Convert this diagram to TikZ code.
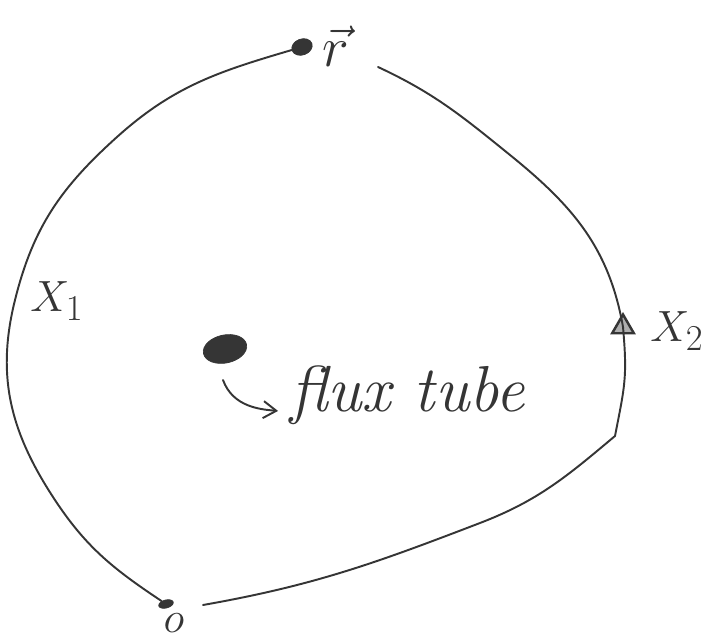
\documentclass[tikz,border=0pt]{standalone}
\usepackage{fontspec}
\usepackage{tikz}
\usetikzlibrary{positioning,shapes.geometric,arrows.meta}
\definecolor{PenGrey}{HTML}{353535}

\begin{document}
\begin{tikzpicture}[>={Straight Barb[length=2.6mm,width=3.4mm]},x=0.2mm,y=0.2mm]
  \tikzstyle{pen}=[draw=PenGrey,line width=1.1pt,line cap=round]
  \tikzstyle{blot}=[ellipse,fill=PenGrey,draw=PenGrey,inner sep=0pt]
  \tikzstyle{hand}=[text=PenGrey,inner sep=0pt,font=\fontsize{24.88}{28}\selectfont]
  \useasboundingbox (0,0) rectangle (713,639);
  % marked points on the loop
  \node[blot,minimum width=4.2mm,minimum height=3.2mm,rotate=20] (rdot) at (302,592) {};
  \node[blot,minimum width=3mm,minimum height=1.6mm,rotate=15] (odot) at (166,35) {};
  \node[regular polygon,regular polygon sides=3,draw=PenGrey,fill=PenGrey!40,line width=1.4pt,
    inner sep=0pt,minimum size=5mm] (x2pt) at (623,312) {};
  \coordinate (ul) at (117,502);
  \coordinate (x1pt) at (15,339);
  \coordinate (ll) at (53,142);
  \coordinate (rgap) at (378,572);
  \coordinate (ur) at (510,484);
  \coordinate (kink) at (615,203);
  \coordinate (lr) at (480,116);
  \coordinate (lgap) at (203,34);
  % labels
  \node[hand,anchor=base] (rlab) at (336,572) {\scalebox{1.3}{$\vec{r}$}};
  \node[hand,anchor=base west] (x1) at (30,327) {$X_1$};
  \node[hand,anchor=base west] (x2) at (650,297) {$X_2$};
  \node[hand] (olab) at (174,16) {$o$};
  % the tube and its label
  \node[blot,minimum width=8.8mm,minimum height=5.6mm,rotate=12] (tube) at (225,290) {};
  \coordinate (tail) at (223,259);
  \node[hand,anchor=base west,font=\fontsize{37}{40}\selectfont\itshape] (flux) at (290,227) {flux tube};
  % the two arcs
  \draw[pen] (rdot) to[out=194,in=42] (ul) to[out=222,in=76] (x1pt)
    to[out=256,in=123] (ll) to[out=303,in=145] (odot);
  \draw[pen] (rgap) to[out=-25,in=141] (ur) to[out=-39,in=100] (x2pt.center)
    to[out=-85,in=79,looseness=1.2] (kink) to[out=220,in=21] (lr) to[out=201,in=10] (lgap);
  \draw[pen,->,shorten >=2.4mm] (tail) to[out=-70,in=175] (flux.base west);
\end{tikzpicture}
\end{document}
